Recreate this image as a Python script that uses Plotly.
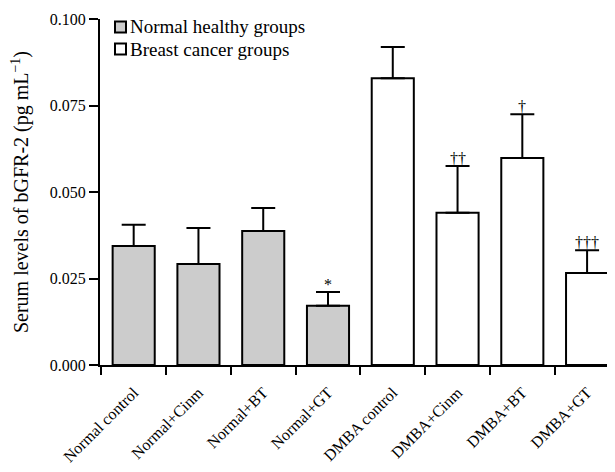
import plotly.graph_objects as go

categories = ["Normal control", "Normal+Cinm", "Normal+BT", "Normal+GT",
              "DMBA control", "DMBA+Cinm", "DMBA+BT", "DMBA+GT"]
normal_cats = categories[:4]
cancer_cats = categories[4:]
normal_vals = [0.0344, 0.0292, 0.0387, 0.0171]
normal_err = [0.0061, 0.0104, 0.0067, 0.0040]
cancer_vals = [0.0829, 0.0440, 0.0598, 0.0266]
cancer_err = [0.0090, 0.0135, 0.0127, 0.0066]
sig_marks = {"Normal+GT": "*", "DMBA+Cinm": "††", "DMBA+BT": "†", "DMBA+GT": "†††"}
y_ticks = [0.0, 0.025, 0.05, 0.075, 0.1]
legend_names = ["Normal healthy groups", "Breast cancer groups"]
legend_colors = ["#cccccc", "white"]

FONT = "Liberation Serif, Times New Roman, serif"
OFF = 8  # default page body margin
W, H = 615, 472
ML, MR, MT, MB = 92, 10, 11, 115

fig = go.Figure()
fig.add_trace(go.Bar(
    x=normal_cats, y=normal_vals, name=legend_names[0],
    marker=dict(color=legend_colors[0], line=dict(color="black", width=2)),
    width=0.65,
    error_y=dict(type="data", symmetric=False, array=normal_err,
                 arrayminus=[0] * 4, color="black", thickness=2, width=12),
))
fig.add_trace(go.Bar(
    x=cancer_cats, y=cancer_vals, name=legend_names[1],
    marker=dict(color=legend_colors[1], line=dict(color="black", width=2)),
    width=0.65,
    error_y=dict(type="data", symmetric=False, array=cancer_err,
                 arrayminus=[0] * 4, color="black", thickness=2, width=12),
))

all_vals = dict(zip(categories, normal_vals + cancer_vals))
all_err = dict(zip(categories, normal_err + cancer_err))
for cat, mark in sig_marks.items():
    fig.add_annotation(x=cat, y=all_vals[cat] + all_err[cat], text=mark,
                       showarrow=False, yanchor="bottom", yshift=-3,
                       font=dict(family=FONT, size=16, color="black"))

# custom legend (paper coordinates; screen pixel targets)
pw, ph = W - ML - MR, H - MT - MB
def px(x):
    return (x - OFF - ML) / pw
def py(y):
    return (H - MB - (y - OFF)) / ph
for i, (name, col) in enumerate(zip(legend_names, legend_colors)):
    cy = 27 + i * 22
    fig.add_shape(type="rect", xref="paper", yref="paper",
                  x0=px(115), x1=px(126), y0=py(cy + 5.5), y1=py(cy - 5.5),
                  fillcolor=col, line=dict(color="black", width=2))
    fig.add_annotation(xref="paper", yref="paper", x=px(128), y=py(cy),
                       xanchor="left", yanchor="middle", text=name,
                       showarrow=False,
                       font=dict(family=FONT, size=19, color="black"))

fig.update_layout(
    width=W, height=H,
    margin=dict(l=ML, r=MR, t=MT, b=MB),
    paper_bgcolor="white", plot_bgcolor="white",
    barmode="overlay",
    font=dict(family=FONT, size=16, color="black"),
    showlegend=False,
)
fig.update_xaxes(
    type="category", categoryorder="array", categoryarray=categories,
    range=[-0.52, 7.4], showline=True, linecolor="black", linewidth=2,
    ticks="outside", tickson="boundaries", ticklen=8, tickwidth=2,
    tickcolor="black", tickangle=-45, showgrid=False, zeroline=False,
    tickfont=dict(family=FONT, size=16), automargin=False,
    ticklabelstandoff=10,
)
fig.update_yaxes(
    range=[0, 0.1], tickvals=y_ticks, tickformat=".3f",
    showline=True, linecolor="black", linewidth=2,
    ticks="outside", ticklen=9, tickwidth=2, tickcolor="black",
    showgrid=False, zeroline=False, automargin=False,
    tickfont=dict(family=FONT, size=16),
    title=dict(text="Serum levels of bGFR-2 (pg mL<sup>−1</sup>)",
               font=dict(family=FONT, size=20), standoff=16),
)

fig.write_html("out.html")
